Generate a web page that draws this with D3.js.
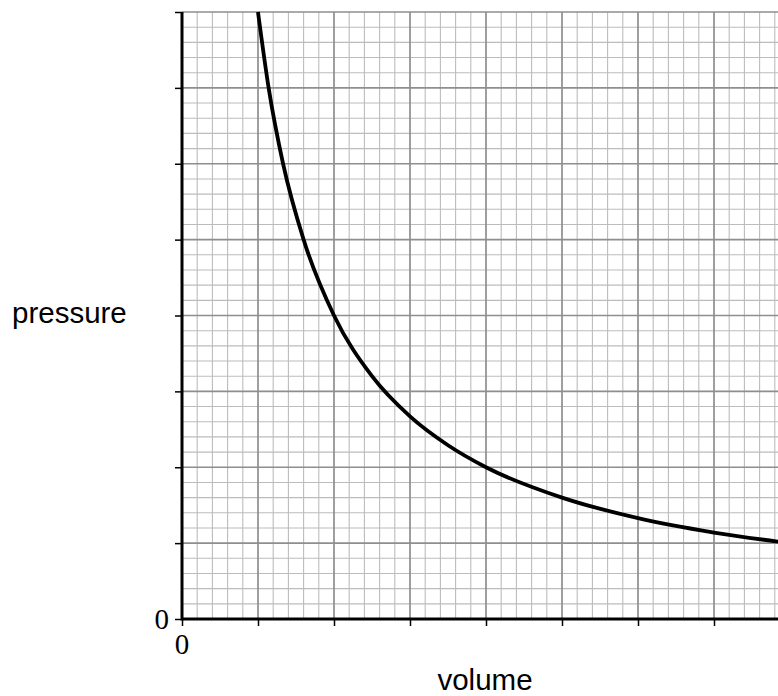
<!DOCTYPE html>
<html>
<head>
<meta charset="utf-8">
<script src="https://cdn.jsdelivr.net/npm/d3@7"></script>
<style>
  html, body { margin: 0; padding: 0; background: #fff; }
  svg { display: block; }
</style>
</head>
<body>
<svg id="chart" width="778" height="696"></svg>
<script>
// ---- data ----
const volume   = [1, 1.14, 1.33, 1.6, 2, 2.5, 3, 3.5, 4, 5, 6, 7, 8];
const pressure = [8, 7, 6, 5, 4, 3.2, 2.67, 2.29, 2, 1.6, 1.33, 1.14, 1.0];
const xTickLabels = ["0"];
const yTickLabels = ["0"];
const xMajor = [0, 1, 2, 3, 4, 5, 6, 7, 8];
const yMajor = [0, 1, 2, 3, 4, 5, 6, 7, 8];

const svg = d3.select("#chart");
const W = 778, H = 696;
const x = d3.scaleLinear().domain([0, 8]).range([182, 790]);
const y = d3.scaleLinear().domain([0, 8]).range([619, 12]);

svg.append("defs").append("clipPath").attr("id", "plotclip")
  .append("rect").attr("x", 182).attr("y", 0).attr("width", W - 182).attr("height", 620);

const g = svg.append("g").attr("clip-path", "url(#plotclip)");

// minor grid
const minor = d3.range(0, 40.001, 1).map(d => d / 5).filter(d => Math.abs(d - Math.round(d)) > 1e-6);
g.selectAll(".vminor").data(minor).join("line")
  .attr("x1", d => x(d)).attr("x2", d => x(d))
  .attr("y1", y(0)).attr("y2", y(8))
  .attr("stroke", "#bcbcbc").attr("stroke-width", 1.1);
g.selectAll(".hminor").data(minor).join("line")
  .attr("y1", d => y(d)).attr("y2", d => y(d))
  .attr("x1", x(0)).attr("x2", x(8))
  .attr("stroke", "#bcbcbc").attr("stroke-width", 1.1);
// major grid
g.selectAll(".vmajor").data(xMajor).join("line")
  .attr("x1", d => x(d)).attr("x2", d => x(d))
  .attr("y1", y(0)).attr("y2", y(8))
  .attr("stroke", "#8e8e8e").attr("stroke-width", 1.7);
g.selectAll(".hmajor").data(yMajor).join("line")
  .attr("y1", d => y(d)).attr("y2", d => y(d))
  .attr("x1", x(0)).attr("x2", x(8))
  .attr("stroke", "#8e8e8e").attr("stroke-width", 1.7);

// curve
const pts = volume.map((v, i) => [v, pressure[i]]);
g.append("path").datum(pts)
  .attr("fill", "none").attr("stroke", "#000").attr("stroke-width", 3.8)
  .attr("d", d3.line().x(d => x(d[0])).y(d => y(d[1])).curve(d3.curveMonotoneX));

// axes
const xAxis = d3.axisBottom(x).tickValues(xMajor).tickSize(7).tickFormat("");
const yAxis = d3.axisLeft(y).tickValues(yMajor).tickSize(7).tickFormat("");
const gx = svg.append("g").attr("transform", `translate(0,${y(0)})`).call(xAxis);
const gy = svg.append("g").attr("transform", `translate(${x(0)},0)`).call(yAxis);
[gx, gy].forEach(a => {
  a.select(".domain").remove();
  a.selectAll(".tick line").attr("stroke", "#000").attr("stroke-width", 1.5);
});
svg.append("line").attr("x1", x(0)).attr("x2", W).attr("y1", y(0)).attr("y2", y(0))
  .attr("stroke", "#000").attr("stroke-width", 3);
svg.append("line").attr("x1", x(0)).attr("x2", x(0)).attr("y1", y(8)).attr("y2", y(0) + 1.5)
  .attr("stroke", "#000").attr("stroke-width", 3);

// zero labels
svg.append("text").attr("x", 169).attr("y", 629).attr("text-anchor", "end")
  .attr("font-family", "'Liberation Serif', 'Times New Roman', serif").attr("font-size", 29)
  .text(yTickLabels[0]);
svg.append("text").attr("x", x(0)).attr("y", 654).attr("text-anchor", "middle")
  .attr("font-family", "'Liberation Serif', 'Times New Roman', serif").attr("font-size", 29)
  .text(xTickLabels[0]);

// axis titles
svg.append("text").attr("x", 12).attr("y", 323)
  .attr("font-family", "'Liberation Sans', Arial, sans-serif").attr("font-size", 29.5)
  .text("pressure");
svg.append("text").attr("x", 485).attr("y", 690).attr("text-anchor", "middle")
  .attr("font-family", "'Liberation Sans', Arial, sans-serif").attr("font-size", 29.5)
  .text("volume");
</script>
</body>
</html>
